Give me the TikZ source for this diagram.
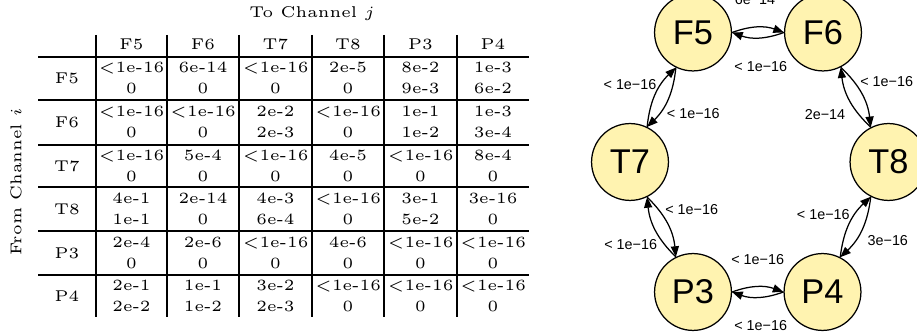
\documentclass[tikz,border=0pt]{standalone}
\usepackage{fontspec}
\usetikzlibrary{arrows.meta}
\newfontfamily\helv{Liberation Sans}
\definecolor{nodeyellow}{RGB}{255,243,176}
\newcommand\tcell[5]{%
  \node[tabtxt] (#1-a) at (#2,#3-5.5) {#4};
  \node[tabtxt] (#1-b) at (#2,#3+15.5) {#5};}
\begin{document}
\begin{tikzpicture}[x=0.32pt,y=-0.32pt,
  tabtxt/.style={font=\fontsize{5}{6}\selectfont, inner sep=0pt, anchor=base},
  hline/.style={line width=0.8pt},
  vline/.style={line width=0.7pt},
  chan/.style={circle, draw, line width=0.4pt, fill=nodeyellow, minimum size=24.6pt, inner sep=0pt, font=\helv\fontsize{11}{13}\selectfont},
  elab/.style={font=\helv\fontsize{4.6}{5.5}\selectfont, inner sep=0pt},
  edge/.style={-{Triangle[length=3.4pt,width=2.6pt]}, line width=0.4pt, bend left=20}
]
\useasboundingbox (0,0) rectangle (917,335);
\clip (0,0) rectangle (917,335);
% ---------------- table ----------------
\node[tabtxt] (toch) at (312,17.6) {To Channel $j$};
\node[font=\fontsize{5}{6}\selectfont, inner sep=0pt, rotate=90] (fromch) at (16,182) {From Channel $i$};
\foreach \y in {57,100,145,187,231,275} \draw[hline] (38,\y) -- (529,\y);
\foreach \x in {96,167,239,312,384,457} \draw[vline] (\x,35) -- (\x,317);
% header
\node[tabtxt] (hF5) at (131.5,49.5) {F5};
\node[tabtxt] (hF6) at (203,49.5) {F6};
\node[tabtxt] (hT7) at (275.5,49.5) {T7};
\node[tabtxt] (hT8) at (348,49.5) {T8};
\node[tabtxt] (hP3) at (420.5,49.5) {P3};
\node[tabtxt] (hP4) at (493,49.5) {P4};
% row labels
\node[tabtxt] (rF5) at (67,83.8) {F5};
\node[tabtxt] (rF6) at (67,127.8) {F6};
\node[tabtxt] (rT7) at (67,171.3) {T7};
\node[tabtxt] (rT8) at (67,214.3) {T8};
\node[tabtxt] (rP3) at (67,258.3) {P3};
\node[tabtxt] (rP4) at (67,301.3) {P4};
% row F5
\tcell{c11}{131.5}{78.5}{$<$1e-16}{0}
\tcell{c12}{203}{78.5}{6e-14}{0}
\tcell{c13}{275.5}{78.5}{$<$1e-16}{0}
\tcell{c14}{348}{78.5}{2e-5}{0}
\tcell{c15}{420.5}{78.5}{8e-2}{9e-3}
\tcell{c16}{493}{78.5}{1e-3}{6e-2}
% row F6
\tcell{c21}{131.5}{122.5}{$<$1e-16}{0}
\tcell{c22}{203}{122.5}{$<$1e-16}{0}
\tcell{c23}{275.5}{122.5}{2e-2}{2e-3}
\tcell{c24}{348}{122.5}{$<$1e-16}{0}
\tcell{c25}{420.5}{122.5}{1e-1}{1e-2}
\tcell{c26}{493}{122.5}{1e-3}{3e-4}
% row T7
\tcell{c31}{131.5}{166}{$<$1e-16}{0}
\tcell{c32}{203}{166}{5e-4}{0}
\tcell{c33}{275.5}{166}{$<$1e-16}{0}
\tcell{c34}{348}{166}{4e-5}{0}
\tcell{c35}{420.5}{166}{$<$1e-16}{0}
\tcell{c36}{493}{166}{8e-4}{0}
% row T8
\tcell{c41}{131.5}{209}{4e-1}{1e-1}
\tcell{c42}{203}{209}{2e-14}{0}
\tcell{c43}{275.5}{209}{4e-3}{6e-4}
\tcell{c44}{348}{209}{$<$1e-16}{0}
\tcell{c45}{420.5}{209}{3e-1}{5e-2}
\tcell{c46}{493}{209}{3e-16}{0}
% row P3
\tcell{c51}{131.5}{253}{2e-4}{0}
\tcell{c52}{203}{253}{2e-6}{0}
\tcell{c53}{275.5}{253}{$<$1e-16}{0}
\tcell{c54}{348}{253}{4e-6}{0}
\tcell{c55}{420.5}{253}{$<$1e-16}{0}
\tcell{c56}{493}{253}{$<$1e-16}{0}
% row P4
\tcell{c61}{131.5}{296}{2e-1}{2e-2}
\tcell{c62}{203}{296}{1e-1}{1e-2}
\tcell{c63}{275.5}{296}{3e-2}{2e-3}
\tcell{c64}{348}{296}{$<$1e-16}{0}
\tcell{c65}{420.5}{296}{$<$1e-16}{0}
\tcell{c66}{493}{296}{$<$1e-16}{0}
% ---------------- graph ----------------
\node[chan] (F5) at (693,32.5) {F5};
\node[chan] (F6) at (823,32.5) {F6};
\node[chan] (T7) at (630,162) {T7};
\node[chan] (T8) at (888.5,162) {T8};
\node[chan] (P3) at (693,292) {P3};
\node[chan] (P4) at (822.5,292) {P4};
\draw[edge] (F5.0) to (F6.180);
\draw[edge] (F6.180) to (F5.0);
\draw[edge] (F5.244) to (T7.64);
\draw[edge] (T7.64) to (F5.244);
\draw[edge] (F6.297) to (T8.117);
\draw[edge] (T8.117) to (F6.297);
\draw[edge] (T7.296) to (P3.116);
\draw[edge] (P3.116) to (T7.296);
\draw[edge] (T8.243) to (P4.63);
\draw[edge] (P4.63) to (T8.243);
\draw[edge] (P3.0) to (P4.180);
\draw[edge] (P4.180) to (P3.0);
\node[elab] (l1) at (755,0) {6e−14};
\node[elab] (l2) at (760.8,66.7) {< 1e−16};
\node[elab] (l3) at (630,85) {< 1e−16};
\node[elab] (l4) at (693.3,113.3) {< 1e−16};
\node[elab] (l5) at (886.7,81.7) {< 1e−16};
\node[elab] (l6) at (825,115) {2e−14};
\node[elab] (l7) at (691.7,210) {< 1e−16};
\node[elab] (l8) at (630.7,245) {< 1e−16};
\node[elab] (l9) at (823.3,214.3) {< 1e−16};
\node[elab] (l10) at (887.8,241) {3e−16};
\node[elab] (l11) at (757.7,259.7) {< 1e−16};
\node[elab] (l12) at (760.7,326) {< 1e−16};
\end{tikzpicture}
\end{document}
